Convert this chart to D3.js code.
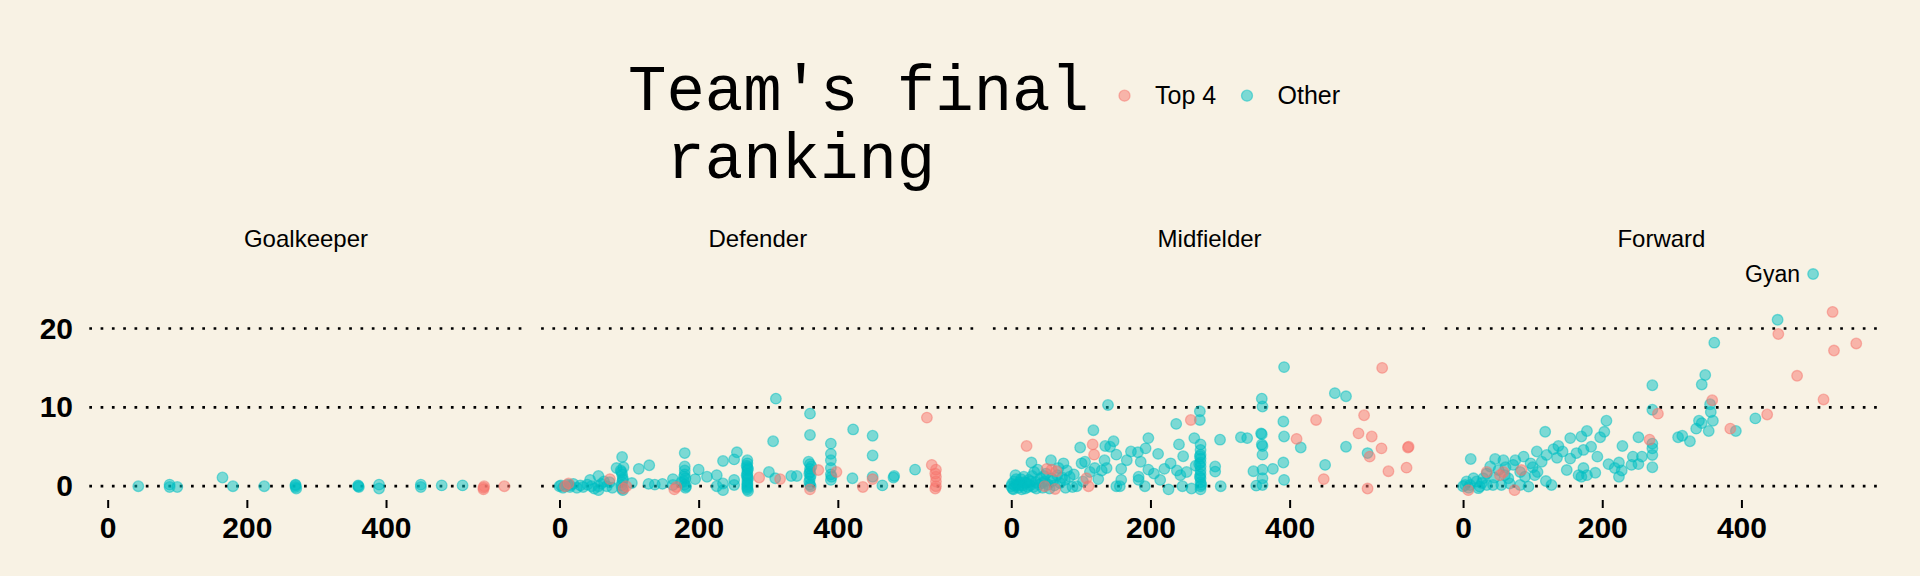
<!DOCTYPE html>
<html>
<head>
<meta charset="utf-8">
<script src="https://cdn.jsdelivr.net/npm/d3@7/dist/d3.min.js"></script>
<style>
  body { margin: 0; background: #F8F2E4; }
  svg { display: block; }
</style>
</head>
<body>
<svg id="chart" width="1920" height="576"></svg>
<script>
// Shots vs. minutes played, World Cup 2010 players, by position
const positions = ["Goalkeeper", "Defender", "Midfielder", "Forward"];
const rankings = ["Top 4", "Other"];
const xTicks = [0, 200, 400];
const yTicks = [0, 10, 20];

// [time, shots] (points are jittered in the original)
const goalkeeperOther = [
  [44, 0], [89, 0.2], [89, -0.1], [100, -0.1], [165, 1.1], [180, 0], [225, 0],
  [270, 0.2], [270, -0.1], [270, 0.1], [271, -0.3], [360, 0], [360, 0.1], [361, -0.1],
  [390, 0.2], [390, -0.3], [450, 0.2], [450, -0.1], [480, 0.1], [510, 0.1],
];
const goalkeeperTop4 = [[540, -0.2], [540, -0.4], [541, 0], [570, 0]];

const defenderOther = [
  [0, 0], [2, 0.1], [5, -0.2], [8, 0], [12, 0.2], [15, -0.1], [15, 0.1], [20, 0.3],
  [25, -0.2], [30, 0.1], [34, -0.1], [40, 0.2], [44, 0.8], [46, 0], [50, -0.3], [56, 1.3],
  [56, 0], [56, -0.5], [60, 0.3], [64, 0.6], [68, 0], [72, 0.5], [76, -0.2],
  [82, 2.3], [90, 3.7], [88, 2.0], [90, 1.5], [91, 1.0], [90, 0.5], [89, 0.1], [90, -0.3],
  [91, -0.5], [92, 2.4], [89, 1.8], [91, 0.8], [104, 0.4], [114, 2.2],
  [129, 2.65], [128, 0.3], [137, 0.2], [148, 0.3], [163, 0.9], [163, 0.15], [175, 0.5],
  [180, 4.2], [180, 2.0], [180, 1.5], [181, 1.0], [179, 0.6], [180, 0.2], [181, -0.2],
  [180, 2.5], [182, 0], [179, 1.2], [195, 0.9], [200, 2.1], [212, 1.2], [226, 1.4], [226, 0],
  [235, 3.2], [235, 0.35], [235, -0.5], [251, 3.4], [255, 4.3], [251, 0.8], [251, 0.15],
  [270, 3.3], [270, 2.9], [270, 2.4], [270, 2.0], [270, 1.6], [270, 1.2], [270, 0.8],
  [270, 0.4], [270, 0], [270, -0.4], [271, -0.6], [269, 2.6], [271, 1.0], [270, 0.2],
  [269, 1.4], [271, 2.2], [270, -0.2],
  [301, 1.8], [307, 5.7], [310, 1.0], [311, 11.1], [333, 1.3], [341, 1.3],
  [358, 3.1], [360, 9.2], [360, 6.5], [360, 2.8], [360, 2.2], [360, 1.8], [361, 1.4],
  [360, 1.0], [359, 0.6], [360, 0.2], [361, 0], [362, 2.5], [359, 1.6], [390, 5.4], [390, 4.1],
  [390, 3.3], [390, 2.3], [390, 0.8], [391, 1.2], [390, 1.5], [422, 7.2], [421, 1.0],
  [450, 6.4], [450, 3.9], [450, 1.2], [464, 0.1], [480, 1.1], [481, 1.3], [511, 2.1],
];
const defenderTop4 = [
  [13, 0.35], [8, 0], [72.5, 0.9], [96, 0], [92, -0.3], [168, -0.1], [165, -0.4],
  [287, 1.1], [317, 0.9], [372, 2.05], [360, -0.4], [398, 1.8], [436, -0.1], [450, 0.9],
  [528, 8.7], [535, 2.7], [541, 2.1], [541, 1.2], [541, 0.6], [541, 0], [540, -0.3], [540, 1.6],
];

const midfielderOther = [
  [0, 0], [1, 0.3], [2, -0.3], [4, 0.6], [5, 0.1], [6, 1.4], [8, 0.2], [10, -0.2],
  [12, 0.5], [14, 0.9], [16, 0.1], [18, 1.2], [20, -0.3], [22, 0.4], [25, 0.8], [27, 0.1],
  [29, 3.0], [30, 1.3], [32, -0.1], [35, 0.5], [38, 2.1], [40, 0.2], [42, 1.0], [45, -0.2],
  [48, 0.6], [50, 1.6], [53, 0.2], [57, 3.3], [58, 1.0], [62, 0.1], [66, 1.4], [70, 0.4],
  [3, -0.4], [7, 0.9], [11, 0.1], [15, -0.4], [19, 0.5], [24, -0.1], [28, 0.6], [33, 1.8],
  [36, -0.3], [44, 0.4], [47, 1.3], [55, -0.3], [60, 0.7], [68, 2.3], [73, 1.1], [78, -0.2],
  [75, 2.9], [77, 0.8], [80, 2.0], [84, 1.2], [88, -0.1], [90, 1.5], [94, 0], [99, 4.9],
  [101, 2.9], [103, 0.6], [106, 3.1], [113, 1.8], [118, 7.1], [120, 2.3], [125, 0.9],
  [130, 2.0], [134, 3.3], [135, 5.1], [137, 2.3], [139, 10.3], [142, 5.0], [147, 5.7],
  [151, 4.0], [151, 0], [156, 0], [158, 2.2], [158, 0.8], [166, 3.3], [172, 4.4],
  [182, 4.3], [183, 1.2], [183, 0.8], [186, 3.1], [192, 0], [193, 4.8], [197, 6.1],
  [197, 2.1], [205, 1.6], [211, 4.1], [214, 0.8], [220, 2.2], [226, -0.4], [229, 2.9],
  [237, 7.9], [238, 2.0], [241, 5.3], [243, 1.4], [246, 0], [247, 3.8], [252, 1.8],
  [259, -0.3], [263, 6.1], [265, 2.6], [271, 9.5], [271, 8.4], [272, 5.3], [272, 4.6],
  [272, 4.0], [272, 3.5], [272, 3.0], [272, 2.5], [272, 2.0], [272, 1.5], [272, 1.0],
  [272, 0.5], [272, 0], [272, -0.4], [270, 2.8], [271, 1.2], [271, 3.8], [273, 0.2],
  [293, 2.5], [293, 1.85],
  [300, 5.9], [301, 0], [330, 6.2], [339, 6.1], [348, 1.9], [352, 0.07], [359, 6.7],
  [360, 11.1], [361, 10.1], [361, 5.1], [361, 4.0], [361, 2.1], [361, 1.0], [361, 0.15],
  [360, 6.6], [360, 5.3], [376, 2.2], [391, 8.2], [392, 15.1], [392, 6.3], [391, 3.0],
  [392, 0.8], [416, 4.9], [451, 2.7], [465, 11.8], [481, 11.4], [481, 5.0], [512, 4.2],
];
const midfielderTop4 = [
  [22, 5.1], [48, 0], [51, 2.2], [58, 2.1], [63, -0.35], [65, 1.9], [108, 1.0], [111, 0],
  [117, 5.3], [119, 4.0], [258, 8.4], [410, 6.0], [438, 8.4], [449, 0.9], [499, 6.7],
  [507, 9.0], [512, -0.3], [515, 3.75], [518, 6.3], [532, 4.8], [533, 15.0], [542, 1.9],
  [568, 2.35], [571, 5.0], [570, 4.9],
];

const forwardOther = [
  [452, 21.1], [361, 18.2], [348, 14.1], [343, 12.9], [272, 12.8], [272, 9.7], [355, 10.4],
  [356, 9.4], [359, 8.3], [339, 8.3], [343, 8.0], [335, 7.3], [353, 7.0], [392, 7.0],
  [420, 8.6], [309, 6.2], [315, 6.4], [326, 5.7], [272, 5.4], [272, 4.8], [272, 3.96],
  [272, 2.4], [252, 6.2], [229, 5.1], [206, 8.3], [203, 6.9], [197, 6.2], [178, 7.0],
  [170, 6.3], [184, 5.0], [193, 3.75], [154, 6.1], [118, 6.9], [137, 5.1], [130, 4.7],
  [173, 4.6], [163, 4.2], [154, 3.5], [106, 4.4], [87, 3.75], [120, 3.96], [113, 3.1],
  [209, 2.8], [224, 3.0], [244, 3.75], [257, 3.75], [252, 2.8], [242, 2.7], [228, 2.0],
  [224, 1.2], [173, 2.3], [166, 1.4], [178, 1.4], [170, 1.2], [149, 2.05], [127, 0.15],
  [119, 0.65], [107, 1.8], [103, 1.4], [97, 2.9], [75, 3.3], [58, 3.3], [46, 3.45],
  [11, 3.45], [72, 2.7], [82, 1.8], [89, 1.2], [39, 2.5], [34, 1.6], [51, 2.05], [60, 1.4],
  [65, 1.0], [15, 1.0], [19.5, 0.6], [24, -0.05], [29, 1.0], [43, 0.15], [55, 0.15],
  [67, 0.35], [3, 0.15], [10, 0.15], [5, 0.6], [22, -0.25], [34, 0.15], [82, 0.15],
  [94, -0.05], [0, 0], [8, -0.2], [27, 0.4], [45, 1.1], [61, 2.4], [135, 3.6], [143, 4.4],
  [190, 1.7], [218, 2.3], [100, 2.4], [503, 26.9],
];
const forwardTop4 = [
  [531, 22.1], [453, 19.3], [565, 18.1], [533, 17.2], [480, 14.0], [518, 11.0], [437, 9.1],
  [384, 7.3], [358, 10.9], [280, 9.2], [268, 5.9], [84, 2.05], [74, -0.5], [7.5, -0.5],
  [58, 1.8], [53, 1.4], [34, 1.8],
];

const otherByPosition = [goalkeeperOther, defenderOther, midfielderOther, forwardOther];
const top4ByPosition = [goalkeeperTop4, defenderTop4, midfielderTop4, forwardTop4];

// labelled player
const highlightName = "Gyan";
const highlightPoint = [503, 26.9];

const svg = d3.select("#chart");
const bg = "#F8F2E4";
svg.append("rect").attr("width", 1920).attr("height", 576).attr("fill", bg);

const color = d3.scaleOrdinal().domain(rankings).range(["#F8766D", "#00BFC4"]);
const sans = "'Liberation Sans', Arial, Helvetica, sans-serif";
const mono = "'Courier New', Courier, 'Liberation Mono', monospace";

const panelLeft = 89.3;
const panelWidth = 433.4;
const panelStep = 451.8;

const y = d3.scaleLinear().domain([-1.75, 28.43]).range([500, 262]);

positions.forEach((pos, i) => {
  const left = panelLeft + i * panelStep;
  const x = d3.scaleLinear().domain([-26.4, 596.4]).range([left, left + panelWidth]);
  const g = svg.append("g").attr("class", "panel");

  // strip label
  g.append("text")
    .attr("x", left + panelWidth / 2)
    .attr("y", 246.7)
    .attr("text-anchor", "middle")
    .style("font-family", sans)
    .style("font-size", "24px")
    .style("fill", "#000")
    .text(pos);

  // dotted horizontal grid
  g.append("g")
    .selectAll("line")
    .data(yTicks)
    .join("line")
    .attr("x1", left)
    .attr("x2", left + panelWidth)
    .attr("y1", (d) => y(d))
    .attr("y2", (d) => y(d))
    .attr("stroke", "#000")
    .attr("stroke-width", 2.7)
    .attr("stroke-dasharray", "2.7 8.6");

  // points
  const pts = otherByPosition[i].map((d) => ({ x: d[0], y: d[1], r: "Other" }))
    .concat(top4ByPosition[i].map((d) => ({ x: d[0], y: d[1], r: "Top 4" })));

  g.append("g")
    .selectAll("circle")
    .data(pts)
    .join("circle")
    .attr("cx", (d) => x(d.x))
    .attr("cy", (d) => y(d.y))
    .attr("r", 5.3)
    .attr("fill", (d) => color(d.r))
    .attr("fill-opacity", 0.5)
    .attr("stroke", (d) => color(d.r))
    .attr("stroke-opacity", 0.5)
    .attr("stroke-width", 1.3);

  // x axis
  const ax = g.append("g")
    .attr("transform", "translate(0,500)")
    .call(d3.axisBottom(x).tickValues(xTicks).tickSize(8).tickPadding(9));
  ax.select(".domain").remove();
  ax.selectAll("line").attr("stroke", "#000").attr("stroke-width", 2);
  ax.selectAll("text")
    .style("font-family", sans)
    .style("font-size", "30px")
    .style("font-weight", "bold")
    .style("fill", "#000");

  if (i === 0) {
    const ay = g.append("g")
      .attr("transform", `translate(${left},0)`)
      .call(d3.axisLeft(y).tickValues(yTicks).tickSize(0).tickPadding(16.3));
    ay.select(".domain").remove();
    ay.selectAll("text")
      .style("font-family", sans)
      .style("font-size", "30px")
      .style("font-weight", "bold")
      .style("fill", "#000");
  }

  if (pos === "Forward") {
    g.append("text")
      .attr("x", x(highlightPoint[0]) - 13)
      .attr("y", y(highlightPoint[1]))
      .attr("dy", "0.35em")
      .attr("text-anchor", "end")
      .style("font-family", sans)
      .style("font-size", "23px")
      .style("fill", "#000")
      .text(highlightName);
  }
});

// legend (top)
const legend = svg.append("g").attr("class", "legend");
legend.append("text")
  .attr("x", 628)
  .attr("y", 110)
  .style("font-family", mono)
  .style("font-size", "64px")
  .style("fill", "#000")
  .text("Team's final");
legend.append("text")
  .attr("x", 666.4)
  .attr("y", 178.3)
  .style("font-family", mono)
  .style("font-size", "64px")
  .style("fill", "#000")
  .text("ranking");

const keyX = [1124.5, 1247];
rankings.forEach((r, i) => {
  legend.append("circle")
    .attr("cx", keyX[i])
    .attr("cy", 95.7)
    .attr("r", 5.5)
    .attr("fill", color(r))
    .attr("fill-opacity", 0.5)
    .attr("stroke", color(r))
    .attr("stroke-opacity", 0.5)
    .attr("stroke-width", 1.3);
  legend.append("text")
    .attr("x", keyX[i] + 30.5)
    .attr("y", 104)
    .style("font-family", sans)
    .style("font-size", "25px")
    .style("fill", "#000")
    .text(r);
});
</script>
</body>
</html>
